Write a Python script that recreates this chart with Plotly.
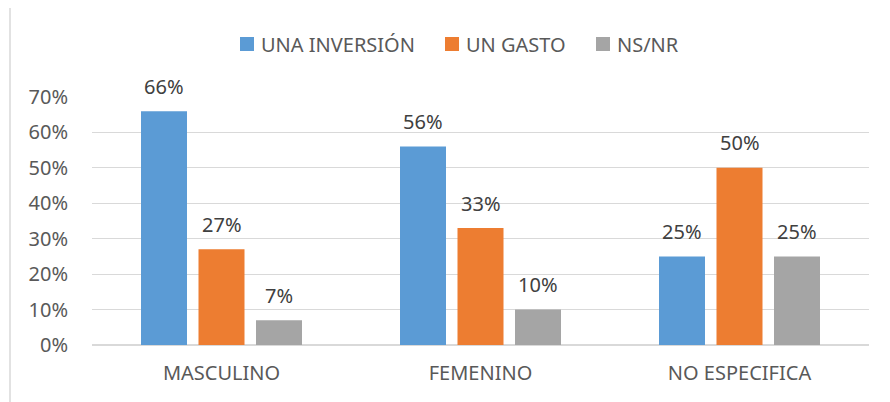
import plotly.graph_objects as go

categories = ["MASCULINO", "FEMENINO", "NO ESPECIFICA"]
series_names = ["UNA INVERSIÓN", "UN GASTO", "NS/NR"]
inversion = [0.66, 0.56, 0.25]
gasto = [0.27, 0.33, 0.50]
nsnr = [0.07, 0.10, 0.25]
colors = ["#5B9BD5", "#ED7D31", "#A5A5A5"]

OFF = 8  # page body margin
W, H = 890 - OFF, 402 - OFF
L, R, T, B = 92 - OFF, 21, 97 - OFF, 57
pw, ph = W - L - R, H - T - B
FONT = "Noto Sans"
TXT = "#595959"
BARGAP = 0.334

fig = go.Figure()
series = [inversion, gasto, nsnr]
for name, vals, c in zip(series_names, series, colors):
    fig.add_trace(go.Bar(
        x=categories, y=vals, name=name, marker_color=c,
        marker_line_width=0, showlegend=False,
    ))

# data labels, offset within group
slot_px = pw / len(categories) * (1 - BARGAP) / len(series)
for i, vals in enumerate(series):
    for cat, v in zip(categories, vals):
        fig.add_annotation(x=cat, y=v, text=f"{round(v*100)}%", showarrow=False,
                           xshift=(i - 1) * slot_px, yshift=25, yanchor="middle",
                           font=dict(family=FONT, size=20, color="#404040"))

# convert image pixel coordinates to paper coordinates
def px2x(p):
    return (p - OFF - L) / pw

def py2y(p):
    return (H - B - (p - OFF)) / ph

fig.add_shape(type="rect", xref="paper", yref="paper",
              x0=px2x(10), x1=px2x(900), y0=py2y(410), y1=py2y(6),
              line=dict(color="#D9D9D9", width=1.5), layer="below")

# manual legend
leg_sq_x = [240, 445, 596]
for name, c, sx in zip(series_names, colors, leg_sq_x):
    fig.add_shape(type="rect", xref="paper", yref="paper",
                  x0=px2x(sx), x1=px2x(sx + 14), y0=py2y(51), y1=py2y(37),
                  fillcolor=c, line=dict(width=0))
    fig.add_annotation(xref="paper", yref="paper", x=px2x(sx + 19), y=py2y(44),
                       text=name, showarrow=False, xanchor="left", yanchor="middle",
                       font=dict(family=FONT, size=20, color=TXT))

fig.update_layout(
    width=W, height=H,
    margin=dict(l=L, r=R, t=T, b=B, autoexpand=False),
    paper_bgcolor="white", plot_bgcolor="white",
    font=dict(family=FONT, color=TXT),
    barmode="group", bargap=BARGAP, bargroupgap=0.2,
    showlegend=False,
)
fig.update_yaxes(range=[0, 0.7], dtick=0.1, tickformat=".0%", showgrid=True,
                 gridcolor="#D9D9D9", gridwidth=1, zeroline=True, zerolinecolor="#D9D9D9",
                 tickfont=dict(size=20, color=TXT), ticks="", showline=False,
                 ticklabelstandoff=23, automargin=False)
fig.update_xaxes(tickfont=dict(size=20, color=TXT), showline=False, ticks="",
                 ticklabelstandoff=14, automargin=False)

fig.write_html("out.html")
